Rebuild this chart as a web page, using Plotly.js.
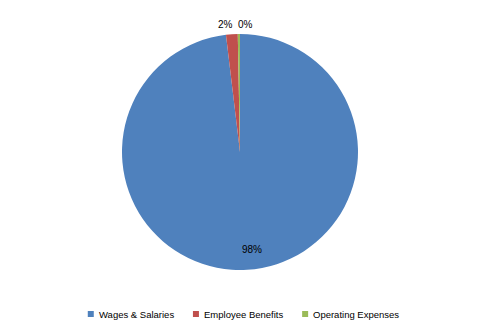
<!DOCTYPE html>
<html><head><meta charset="utf-8">
<script src="https://cdn.plot.ly/plotly-3.0.1.min.js"></script>
<style>html,body{margin:0;padding:0;background:#fff}#chart{width:480px;height:333px}</style>
</head><body><div id="chart"></div>
<script>
const categories = ["Wages & Salaries", "Employee Benefits", "Operating Expenses"];
const values = [98.1, 1.6, 0.3];
const colors = ["#4F81BD", "#C0504D", "#9BBB59"];

const W = 480, H = 333;
const cx = 240, cy = 152, R = 118;
const total = values.reduce((a, b) => a + b, 0);
const FONT = "Liberation Sans, Arial, sans-serif";
const FS = 9.5;

// data labels, positioned from the data (clockwise from 12 o'clock)
const annotations = [];
const shapes = [];
let cum = 0;
values.forEach((v, i) => {
  const mid = (cum + v / 2) / total * 2 * Math.PI;
  cum += v;
  const f = i === 0 ? 0.83 : 1.08;
  let px = cx + R * f * Math.sin(mid);
  const py = cy - R * f * Math.cos(mid);
  let anchor = "center";
  if (i === 0) px += 6;
  if (i === 1) { px += 3; anchor = "right"; }
  if (i === 2) { px -= 2; anchor = "left"; }
  annotations.push({
    x: px / W, y: 1 - py / H, xref: "paper", yref: "paper",
    text: Math.round(v / total * 100) + "%", showarrow: false,
    font: {family: FONT, size: 10, color: "#000"},
    xanchor: anchor, yanchor: "middle", borderpad: 0
  });
});

// custom legend built from categories and colours
const ctx = document.createElement("canvas").getContext("2d");
ctx.font = FS + "px Liberation Sans";
const sq = 6, gapSym = 4, gapItem = 20, legY = 314;
const widths = categories.map(c => ctx.measureText(c).width);
const totalW = widths.reduce((a, w) => a + sq + gapSym + w, 0) + gapItem * (categories.length - 1);
let lx = 243 - totalW / 2;
categories.forEach((c, i) => {
  shapes.push({
    type: "rect", xref: "paper", yref: "paper",
    x0: lx / W, x1: (lx + sq) / W, y0: 1 - (legY + sq / 2) / H, y1: 1 - (legY - sq / 2) / H,
    fillcolor: colors[i], line: {width: 0}
  });
  annotations.push({
    x: (lx + sq + gapSym) / W, y: 1 - legY / H, xref: "paper", yref: "paper",
    text: c, showarrow: false, xanchor: "left", yanchor: "middle",
    font: {family: FONT, size: FS, color: "#000"}, borderpad: 0
  });
  lx += sq + gapSym + widths[i] + gapItem;
});

const data = [{
  type: "pie",
  labels: categories,
  values: values,
  marker: {colors: colors, line: {color: "#fff", width: 0}},
  sort: false,
  direction: "clockwise",
  rotation: 0,
  textinfo: "none",
  hoverinfo: "label+percent",
  domain: {x: [(cx - R) / W, (cx + R) / W], y: [1 - (cy + R) / H, 1 - (cy - R) / H]}
}];

const layout = {
  width: W, height: H,
  margin: {l: 0, r: 0, t: 0, b: 0},
  paper_bgcolor: "#fff",
  showlegend: false,
  annotations: annotations,
  shapes: shapes
};

Plotly.newPlot("chart", data, layout, {displayModeBar: false, staticPlot: true});
</script></body></html>
